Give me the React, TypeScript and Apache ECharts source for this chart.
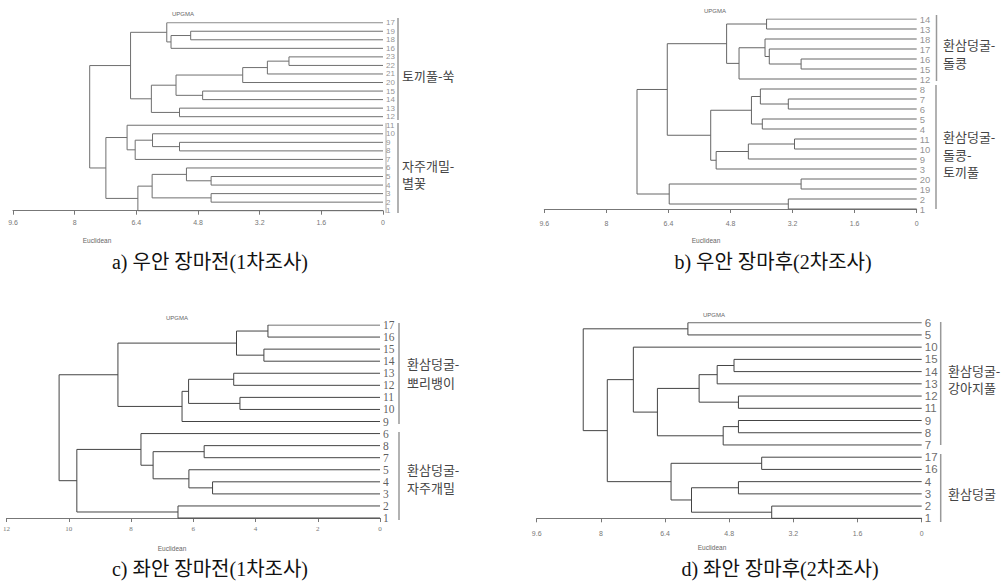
import React, { useEffect, useRef } from "react";
import * as echarts from "echarts";

// ---------- data ----------
type Merge = [string, string, number];

const leavesA = ["17", "19", "18", "16", "23", "22", "21", "20", "15", "14", "13", "12", "11", "10", "9", "8", "7", "6", "5", "4", "3", "2", "1"];
const mergesA: Merge[] = [
  ["19", "18", 4.99], ["#0", "16", 5.5], ["17", "#1", 5.61],
  ["23", "22", 2.44], ["#3", "21", 3.0], ["#4", "20", 3.64],
  ["15", "14", 4.68], ["#5", "#6", 5.37], ["13", "12", 5.28],
  ["#7", "#8", 6.01], ["#2", "#9", 6.55],
  ["9", "8", 5.28], ["10", "#11", 5.98], ["#12", "7", 6.43], ["11", "#13", 6.64],
  ["5", "4", 4.46], ["6", "#15", 5.1], ["3", "2", 4.46], ["#16", "#17", 5.99],
  ["#18", "1", 6.36], ["#14", "#19", 7.19], ["#10", "#20", 7.61],
];

const leavesB = ["14", "13", "18", "17", "16", "15", "12", "8", "7", "6", "5", "4", "11", "10", "9", "3", "20", "19", "2", "1"];
const mergesB: Merge[] = [
  ["14", "13", 3.87], ["16", "15", 2.98], ["17", "#1", 3.8], ["18", "#2", 3.91],
  ["#3", "12", 4.58], ["#0", "#4", 4.9],
  ["7", "6", 3.31], ["8", "#6", 4.03], ["5", "4", 3.98], ["#7", "#8", 4.26],
  ["11", "10", 3.15], ["#10", "9", 4.34], ["#11", "3", 5.17], ["#9", "#12", 5.31],
  ["#5", "#13", 6.43], ["20", "19", 2.98], ["2", "1", 3.31], ["#15", "#16", 6.38],
  ["#14", "#17", 7.21],
];

const leavesC = ["17", "16", "15", "14", "13", "12", "11", "10", "9", "6", "8", "7", "5", "4", "3", "2", "1"];
const mergesC: Merge[] = [
  ["17", "16", 3.6], ["15", "14", 3.73], ["#0", "#1", 4.61],
  ["13", "12", 4.7], ["11", "10", 4.5], ["#3", "#4", 6.15], ["#5", "9", 6.36],
  ["#2", "#6", 8.42],
  ["8", "7", 5.65], ["4", "3", 5.38], ["5", "#9", 6.14], ["#8", "#10", 7.29],
  ["6", "#11", 7.68], ["2", "1", 6.49], ["#12", "#13", 9.74], ["#7", "#14", 10.31],
];

const leavesD = ["6", "5", "10", "15", "14", "13", "12", "11", "9", "8", "7", "17", "16", "4", "3", "2", "1"];
const mergesD: Merge[] = [
  ["6", "5", 5.83], ["15", "14", 4.68], ["#1", "13", 5.1], ["12", "11", 4.57],
  ["#2", "#3", 5.55], ["9", "8", 4.57], ["#5", "7", 4.95], ["#4", "#6", 6.59],
  ["10", "#7", 7.19], ["17", "16", 3.99], ["4", "3", 4.57], ["2", "1", 3.74],
  ["#10", "#11", 5.74], ["#9", "#12", 6.25], ["#8", "#13", 7.84], ["#0", "#14", 8.44],
];

const axisMaxAB = 9.6;
const axisStepAB = 1.6;
const axisMaxC = 12;
const axisStepC = 2;

const captions = ["a) 우안 장마전(1차조사)", "b) 우안 장마후(2차조사)", "c) 좌안 장마전(1차조사)", "d) 좌안 장마후(2차조사)"];
const groupLabelsA = [["토끼풀-쑥"], ["자주개밀-", "별꽃"]];
const groupLabelsB = [["환삼덩굴-", "돌콩"], ["환삼덩굴-", "돌콩-", "토끼풀"]];
const groupLabelsC = [["환삼덩굴-", "뽀리뱅이"], ["환삼덩굴-", "자주개밀"]];
const groupLabelsD = [["환삼덩굴-", "강아지풀"], ["환삼덩굴"]];

// ---------- helpers ----------
function buildTree(leaves: string[], merges: Merge[]) {
  const n = leaves.length;
  const pos: Record<string, [number, number]> = {};
  leaves.forEach((l, i) => (pos[l] = [0, n - 1 - i]));
  const segs: { coords: number[][] }[] = [];
  merges.forEach((m, k) => {
    const a = pos[m[0]];
    const b = pos[m[1]];
    const h = m[2];
    segs.push({ coords: [[a[0], a[1]], [h, a[1]], [h, b[1]], [b[0], b[1]]] });
    pos["#" + k] = [h, (a[1] + b[1]) / 2];
  });
  const leafPts = leaves.map((l, i) => ({ value: [0, n - 1 - i], name: l }));
  return { segs, leafPts, n };
}

interface PanelCfg {
  leaves: string[];
  merges: Merge[];
  left: number;
  top: number;
  width: number;
  height: number;
  yMin: number;
  xMax: number;
  xStep: number;
  lineColor: string;
  axisFont: number;
  axisFamily: string;
  leafFont: number;
  leafFamily: string;
  leafColor: string;
}

const sans = "'Liberation Sans', Arial, 'Noto Sans CJK KR', sans-serif";
const serif = "'Liberation Serif', 'Times New Roman', 'Noto Sans CJK KR', serif";
const kor = "'Noto Sans CJK KR', sans-serif";

const panels: PanelCfg[] = [
  { leaves: leavesA, merges: mergesA, left: 13, top: 22.7, width: 370, height: 193.3, yMin: -0.62, xMax: axisMaxAB, xStep: axisStepAB, lineColor: "#6f6f6f", axisFont: 7, axisFamily: sans, leafFont: 8, leafFamily: sans, leafColor: "#777" },
  { leaves: leavesB, merges: mergesB, left: 544.3, top: 19, width: 372.4, height: 197.7, yMin: -0.77, xMax: axisMaxAB, xStep: axisStepAB, lineColor: "#666", axisFont: 7, axisFamily: sans, leafFont: 9.5, leafFamily: sans, leafColor: "#777" },
  { leaves: leavesC, merges: mergesC, left: 2.7, top: 325, width: 377.3, height: 197, yMin: -0.33, xMax: axisMaxC, xStep: axisStepC, lineColor: "#444", axisFont: 7, axisFamily: serif, leafFont: 11.5, leafFamily: serif, leafColor: "#333" },
  { leaves: leavesD, merges: mergesD, left: 536.7, top: 322.7, width: 385, height: 204.3, yMin: -0.71, xMax: axisMaxAB, xStep: axisStepAB, lineColor: "#444", axisFont: 7, axisFamily: sans, leafFont: 11.5, leafFamily: sans, leafColor: "#444" },
];

function buildOption() {
  const grid: any[] = [];
  const xAxis: any[] = [];
  const yAxis: any[] = [];
  const series: any[] = [];
  panels.forEach((p, i) => {
    const t = buildTree(p.leaves, p.merges);
    grid.push({ left: p.left, top: p.top, width: p.width, height: p.height, containLabel: false });
    xAxis.push({
      type: "value", gridIndex: i, min: 0, max: p.xMax, interval: p.xStep, inverse: true,
      axisLine: { show: true, lineStyle: { color: "#777", width: 1 } },
      axisTick: { show: true, length: 4, lineStyle: { color: "#777" } },
      axisLabel: { fontSize: p.axisFont, color: "#777", fontFamily: p.axisFamily, margin: 3 },
      splitLine: { show: false },
    });
    yAxis.push({ type: "value", gridIndex: i, min: p.yMin, max: t.n - 1, show: false });
    series.push({
      type: "lines", coordinateSystem: "cartesian2d", xAxisIndex: i, yAxisIndex: i,
      polyline: true, silent: true, data: t.segs,
      lineStyle: { color: p.lineColor, width: 1, opacity: 1 },
    });
    series.push({
      type: "scatter", xAxisIndex: i, yAxisIndex: i, symbolSize: 0.1, silent: true,
      itemStyle: { color: "transparent" }, data: t.leafPts,
      label: {
        show: true, position: "right", distance: 3, formatter: "{b}",
        fontSize: p.leafFont, lineHeight: p.leafFont, fontFamily: p.leafFamily, color: p.leafColor,
      },
    });
  });

  const graphic: any[] = [];
  const txt = (x: number, y: number, text: string, style: any) =>
    graphic.push({ type: "text", x, y, style: { text, ...style } });
  const bar = (x: number, y1: number, y2: number, color = "#999", w = 1.5) =>
    graphic.push({ type: "line", shape: { x1: x, y1, x2: x, y2 }, style: { stroke: color, lineWidth: w } });

  // UPGMA
  const up = { fontSize: 6, fill: "#666", fontFamily: sans };
  txt(172, 11, "UPGMA", up);
  txt(704, 8, "UPGMA", up);
  txt(166, 315, "UPGMA", up);
  txt(703, 312, "UPGMA", up);
  // Euclidean
  const eu = { fontSize: 6.5, fill: "#666", fontFamily: sans, align: "center" };
  txt(97, 237, "Euclidean", eu);
  txt(706, 237, "Euclidean", eu);
  txt(172, 545, "Euclidean", eu);
  txt(712, 544, "Euclidean", eu);
  // captions
  const cap = { fontSize: 20, fill: "#111", fontFamily: serif, align: "center" };
  txt(210, 252, captions[0], cap);
  txt(773, 252, captions[1], cap);
  txt(210, 559, captions[2], cap);
  txt(780, 559, captions[3], cap);
  // group bars
  bar(398, 18, 120);
  bar(398, 123, 213);
  bar(386, 123, 213, "#aaa", 1);
  bar(936.5, 15, 81);
  bar(936, 85, 209);
  bar(399, 323, 424);
  bar(399, 432, 520);
  bar(940.7, 322, 445);
  bar(940.7, 454, 522);
  // group labels (one text per line)
  const gl = { fontSize: 13, lineHeight: 14, fill: "#444", fontFamily: kor, verticalAlign: "middle" };
  const lines = (x: number, ys: number[], ls: string[]) => ls.forEach((l, k) => txt(x, ys[k], l, gl));
  lines(402, [75], groupLabelsA[0]);
  lines(402, [165, 182], groupLabelsA[1]);
  lines(943, [44, 62], groupLabelsB[0]);
  lines(943, [136, 154, 171], groupLabelsB[1]);
  lines(407, [363, 382], groupLabelsC[0]);
  lines(407, [469, 487], groupLabelsC[1]);
  lines(948, [370, 387], groupLabelsD[0]);
  lines(948, [493], groupLabelsD[1]);

  return { animation: false, backgroundColor: "#fff", grid, xAxis, yAxis, series, graphic };
}

export default function App() {
  const ref = useRef<HTMLDivElement>(null);
  useEffect(() => {
    if (!ref.current) return;
    const chart = echarts.init(ref.current, undefined, { renderer: "svg" });
    chart.setOption(buildOption() as any);
    return () => chart.dispose();
  }, []);
  return <div ref={ref} style={{ position: "fixed", left: 0, top: 0, width: 1007, height: 586, background: "#fff" }} />;
}
